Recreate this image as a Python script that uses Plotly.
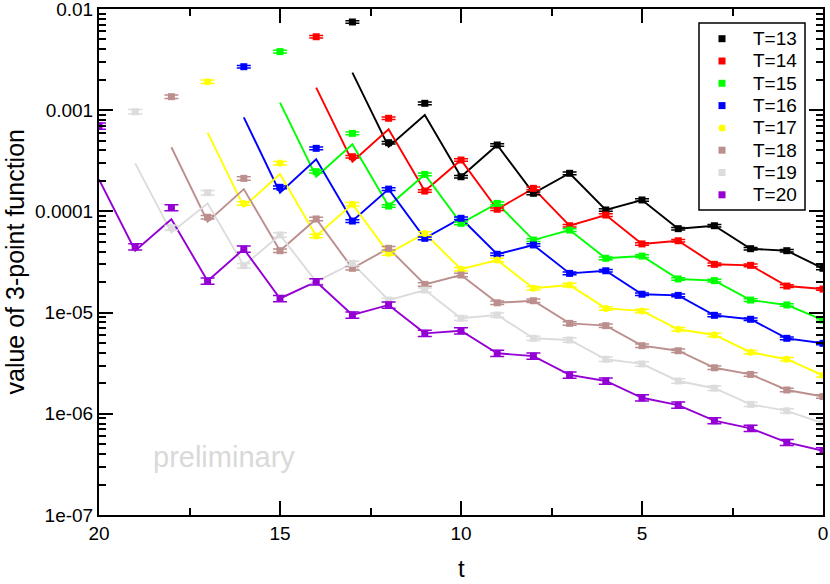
import plotly.graph_objects as go

# ---------------- data ----------------
T_values = [13, 14, 15, 16, 17, 18, 19, 20]
labels = ["T=13", "T=14", "T=15", "T=16", "T=17", "T=18", "T=19", "T=20"]

# measured points, for t = T, T-1, ..., 0
pts_T13 = [7.44e-3, 4.77e-4, 1.17e-3, 2.20e-4, 4.53e-4, 1.51e-4, 2.38e-4, 1.033e-4, 1.297e-4,
           6.75e-5, 7.22e-5, 4.28e-5, 4.09e-5, 2.74e-5]
pts_T14 = [5.32e-3, 3.47e-4, 8.32e-4, 1.59e-4, 3.22e-4, 1.05e-4, 1.69e-4, 7.22e-5, 9.2e-5,
           4.77e-5, 5.13e-5, 3.0e-5, 2.93e-5, 1.83e-5, 1.71e-5]
pts_T15 = [3.79e-3, 2.47e-4, 5.9e-4, 1.13e-4, 2.32e-4, 7.62e-5, 1.20e-4, 5.21e-5, 6.54e-5,
           3.44e-5, 3.62e-5, 2.15e-5, 2.07e-5, 1.33e-5, 1.19e-5, 8.45e-6]
pts_T16 = [2.69e-3, 1.73e-4, 4.2e-4, 8.03e-5, 1.66e-4, 5.42e-5, 8.55e-5, 3.77e-5, 4.66e-5,
           2.44e-5, 2.59e-5, 1.52e-5, 1.48e-5, 9.4e-6, 8.59e-6, 5.57e-6, 4.97e-6]
pts_T17 = [1.91e-3, 1.20e-4, 3.0e-4, 5.71e-5, 1.18e-4, 3.85e-5, 6.06e-5, 2.68e-5, 3.31e-5,
           1.74e-5, 1.87e-5, 1.10e-5, 1.04e-5, 6.84e-6, 6.01e-6, 4.06e-6, 3.46e-6, 2.40e-6]
pts_T18 = [1.36e-3, 8.75e-5, 2.12e-4, 4.09e-5, 8.42e-5, 2.74e-5, 4.32e-5, 1.90e-5, 2.35e-5,
           1.25e-5, 1.31e-5, 7.83e-6, 7.43e-6, 4.71e-6, 4.20e-6, 2.85e-6, 2.45e-6, 1.72e-6, 1.48e-6]
pts_T19 = [9.66e-4, 6.9e-5, 1.53e-4, 2.91e-5, 5.85e-5, 2.02e-5, 3.07e-5, 1.33e-5, 1.67e-5,
           8.79e-6, 9.46e-6, 5.57e-6, 5.36e-6, 3.46e-6, 3.11e-6, 2.11e-6, 1.79e-6, 1.24e-6,
           1.07e-6, 8.06e-7]
pts_T20 = [6.98e-4, 4.48e-5, 1.09e-4, 2.05e-5, 4.25e-5, 1.38e-5, 2.02e-5, 9.46e-6, 1.19e-5,
           6.24e-6, 6.62e-6, 3.96e-6, 3.72e-6, 2.42e-6, 2.11e-6, 1.44e-6, 1.22e-6, 8.55e-7,
           7.19e-7, 5.22e-7, 4.31e-7]
points = [pts_T13, pts_T14, pts_T15, pts_T16, pts_T17, pts_T18, pts_T19, pts_T20]

# curve values at t = T, T-1, T-2 (afterwards the curve follows the points)
curve_head = [
    [2.35e-3, 4.35e-4, 8.97e-4],
    [1.67e-3, 3.10e-4, 6.47e-4],
    [1.19e-3, 2.20e-4, 4.60e-4],
    [8.51e-4, 1.53e-4, 3.27e-4],
    [6.00e-4, 1.11e-4, 2.34e-4],
    [4.30e-4, 7.92e-5, 1.66e-4],
    [2.98e-4, 6.20e-5, 1.20e-4],
    [2.07e-4, 4.09e-5, 8.36e-5],
]

# relative errors (percent)
err_pct = [3, 3, 3, 3, 4, 4, 5, 7]

colors = ["#000000", "#ff0000", "#00ff00", "#0000ff", "#ffff00", "#bc8f8f", "#dcdcdc", "#9400d3"]
symbols = ["square", "square", "square", "square", "circle", "square", "square", "square"]

x_tickvals = [20, 15, 10, 5, 0]
y_tickvals = [1e-7, 1e-6, 1e-5, 1e-4, 1e-3, 1e-2]
y_ticktext = ["1e-07", "1e-06", "1e-05", "0.0001", "0.001", "0.01"]

FONT = "Liberation Sans, Arial, sans-serif"

# plot area geometry in pixels (for paper-coordinate placement of legend)
L, R, TOP, BOT = 99, 823, 9, 515
def px(x):
    return (x - L) / (R - L)
def py(y):
    return (BOT - y) / (BOT - TOP)

fig = go.Figure()

# curves
for T, pts, head, c in zip(T_values, points, curve_head, colors):
    ts = list(range(T, -1, -1))
    ys = head + pts[3:]
    fig.add_trace(go.Scatter(x=ts, y=ys, mode="lines", line=dict(color=c, width=1.9),
                             showlegend=False, hoverinfo="skip"))

# points with error bars
for T, pts, lab, c, s, e in zip(T_values, points, labels, colors, symbols, err_pct):
    ts = list(range(T, -1, -1))
    fig.add_trace(go.Scatter(
        x=ts, y=pts, mode="markers", name=lab, showlegend=False,
        marker=dict(color=c, symbol=s, size=7, line=dict(width=0)),
        error_y=dict(type="percent", value=e, color=c, thickness=1.5, width=7),
    ))

# legend drawn by hand (box, symbols, labels)
shapes = [dict(type="rect", xref="paper", yref="paper",
               x0=px(699), x1=px(805), y0=py(210), y1=py(23),
               line=dict(color="black", width=1.5), fillcolor="white", layer="above")]
annotations = []
for i, (lab, c, s) in enumerate(zip(labels, colors, symbols)):
    cy = 38.7 + i * 22.3
    shapes.append(dict(type="circle" if s == "circle" else "rect", xref="paper", yref="paper",
                       x0=px(718.5), x1=px(725.5), y0=py(cy + 3.5), y1=py(cy - 3.5),
                       line=dict(width=0), fillcolor=c, layer="above"))
    annotations.append(dict(x=px(751), y=py(cy), xref="paper", yref="paper", text=lab,
                            showarrow=False, xanchor="left", yanchor="middle",
                            font=dict(family=FONT, size=19, color="black")))

annotations += [
    dict(x=16.56, y=-6.427, xref="x", yref="y", text="preliminary", showarrow=False,
         font=dict(family=FONT, size=29, color="#d9d9d9")),
    dict(x=px(14.5), y=0.5, xref="paper", yref="paper", text="value of 3-point function",
         textangle=-90, showarrow=False, xanchor="center", yanchor="middle",
         font=dict(family=FONT, size=25, color="black")),
    dict(x=0.5, y=py(568), xref="paper", yref="paper", text="t", showarrow=False,
         xanchor="center", yanchor="middle", font=dict(family=FONT, size=24, color="black")),
]

fig.update_layout(
    width=830, height=584,
    margin=dict(l=L, r=830 - R, t=TOP, b=584 - BOT, autoexpand=False),
    paper_bgcolor="white", plot_bgcolor="white",
    font=dict(family=FONT, size=19, color="black"),
    showlegend=False,
    shapes=shapes, annotations=annotations,
    xaxis=dict(range=[20, 0], tickvals=x_tickvals, ticktext=[str(v) for v in x_tickvals],
               ticks="inside", ticklen=14, tickwidth=1.5, tickcolor="black",
               showline=True, linewidth=2, linecolor="black", mirror="ticks",
               showgrid=False, zeroline=False, automargin=False, ticklabeloverflow="allow",
               minor=dict(ticks="inside", ticklen=7, tickwidth=1.5, tickcolor="black", dtick=2.5,
                          showgrid=False),
               tickfont=dict(family=FONT, size=19)),
    yaxis=dict(type="log", range=[-7, -2], tickvals=y_tickvals, ticktext=y_ticktext,
               ticks="inside", ticklen=14, tickwidth=1.5, tickcolor="black",
               showline=True, linewidth=2, linecolor="black", mirror="ticks",
               showgrid=False, zeroline=False, automargin=False, ticklabeloverflow="allow",
               minor=dict(ticks="inside", ticklen=7, tickwidth=1.5, tickcolor="black", dtick="D1",
                          showgrid=False),
               tickfont=dict(family=FONT, size=19)),
)

fig.write_html("out.html", config={"displayModeBar": False},
               post_script="document.body.style.margin='0px';")
